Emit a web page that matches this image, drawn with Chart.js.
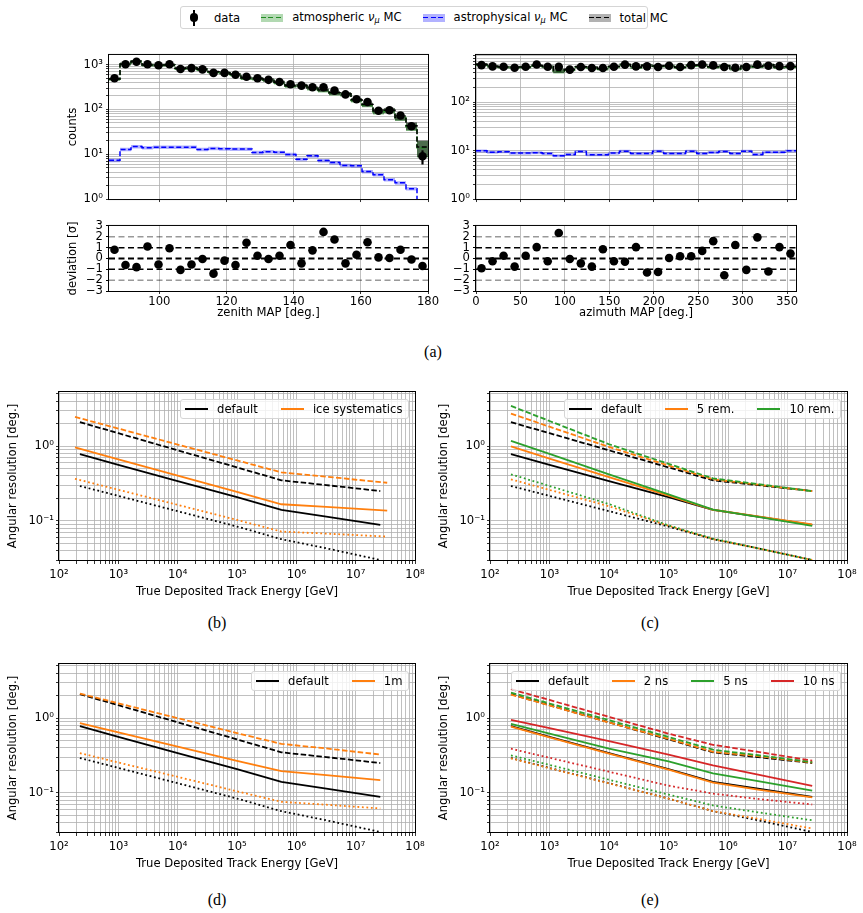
<!DOCTYPE html>
<html><head><meta charset="utf-8">
<script src="https://cdn.jsdelivr.net/npm/chart.js@4.4.1/dist/chart.umd.min.js"></script>
<style>
html,body{margin:0;padding:0}
body{width:863px;height:913px;overflow:hidden;background:#fff;position:relative;font-family:'DejaVu Sans',sans-serif;font-size:11.6px;color:#000}
canvas{position:absolute}
.cap{position:absolute;font-family:'Liberation Serif','DejaVu Serif',serif;font-size:16px;transform:translate(-50%,-50%)}
.lg{position:absolute;display:flex;align-items:center;background:rgba(255,255,255,0.8);border:1px solid #d5d5d5;border-radius:3px;height:20px;padding:0 5px 0 4px;box-sizing:border-box;white-space:nowrap}
.it{display:flex;align-items:center;margin-left:23px}
.it:first-child{margin-left:0}
.hl{width:23px;height:2px;margin-right:9px;flex:none}
#tl{position:absolute;left:180px;top:6px;height:23px;width:468px;box-sizing:border-box;border:1px solid #d5d5d5;border-radius:3px;display:flex;align-items:center;padding-left:2px;background:#fff;white-space:nowrap}
.h{position:relative;width:22px;height:16px;flex:none}
.pt{height:8px}
.dot{width:8.6px;height:8.6px;border-radius:50%;background:#000;position:absolute;left:6.7px;top:3.7px}
.eb{position:absolute;left:10.25px;top:0;width:1.5px;height:16px;background:#000}
.dl{position:absolute;left:0;top:3.25px;width:22px;height:1.5px}
.t{margin-left:9px;margin-right:21px}
sub{font-size:0.7em;vertical-align:-0.25em}
</style>
</head><body>
<div id="tl">
  <div class="h"><div class="eb"></div><div class="dot"></div></div><span class="t">data</span>
  <div class="h pt" style="background:rgba(0,128,0,0.3)"><div class="dl" style="background:repeating-linear-gradient(90deg,#228b22 0 5px,transparent 5px 7.5px)"></div></div><span class="t">atmospheric <i>ν<sub>μ</sub></i> MC</span>
  <div class="h pt" style="background:rgba(0,0,255,0.3)"><div class="dl" style="background:repeating-linear-gradient(90deg,#0000ff 0 5px,transparent 5px 7.5px)"></div></div><span class="t">astrophysical <i>ν<sub>μ</sub></i> MC</span>
  <div class="h pt" style="background:rgba(0,0,0,0.3)"><div class="dl" style="background:repeating-linear-gradient(90deg,#000 0 5px,transparent 5px 7.5px)"></div></div><span class="t" style="margin-right:0">total MC</span>
</div>
<canvas id="zc"></canvas><canvas id="zd"></canvas><canvas id="ac"></canvas><canvas id="ad"></canvas>
<canvas id="pb"></canvas><canvas id="pc"></canvas><canvas id="pd"></canvas><canvas id="pe"></canvas>
<div class="cap" style="left:433px;top:352px">(a)</div>
<div class="cap" style="left:217px;top:623px">(b)</div>
<div class="cap" style="left:650px;top:623px">(c)</div>
<div class="cap" style="left:217px;top:900px">(d)</div>
<div class="cap" style="left:650px;top:900px">(e)</div>
<script>
// ---------------- data: panel (a) ----------------
const zenithRange = [85, 180];
const azimuthRange = [0, 360];
const zenithTicks = [100, 120, 140, 160, 180];
const azimuthTicks = [0, 50, 100, 150, 200, 250, 300, 350];
const deviationTicks = [-3, -2, -1, 0, 1, 2, 3];
const deviationLevels = [-2, -1, 0, 1, 2];
const countsMax = { zenith: 1640, azimuth: 935 };

const zenithCounts = [496,1015,1158,1020,966,1015,795,835,783,653,653,592,537,496,457,408,363,339,313,313,262,216,169,146,93,96,73,42,9];
const zenithCountErr = [22,32,34,32,31,32,28,29,28,26,26,24,23,22,21,20,19,18,18,18,16,15,13,12,10,10,9,6.5,3];
const zenithAtmMC = [471,1021,1170,971,969,971,811,837,771,676,645,594,490,479,447,392,329,339,291,263,228,217,159,124,88,93,64,41,14];
const zenithAstroMC = [7.3,12.8,14.8,14.0,14.3,14.3,14.3,14.4,12.8,13.4,13.2,13.0,13.0,10.9,11.4,11.0,9.9,7.7,9.2,7.2,6.5,5.6,5.5,4.1,3.5,2.7,2.3,1.7,0.5];
const zenithTotalMC = [478,1034,1185,985,983,985,825,851,784,689,658,607,503,490,458,403,339,347,300,270,234,223,164,128,92,96,66,43,14.5];
const zenithMCRelErr = [.07,.07,.07,.07,.07,.07,.07,.07,.07,.07,.07,.07,.08,.08,.08,.08,.08,.08,.09,.09,.1,.1,.1,.1,.12,.12,.14,.2,.4];
const zenithAstroRelErr = [.09,.09,.09,.09,.09,.09,.09,.09,.09,.09,.09,.09,.09,.09,.09,.09,.09,.09,.09,.09,.09,.09,.09,.09,.09,.09,.09,.09,.09];
const zenithDeviation = [0.8,-0.6,-0.8,1.1,-0.55,0.95,-1.05,-0.55,-0.05,-1.4,-0.2,-0.6,1.45,0.25,-0.05,0.25,1.25,-0.45,0.75,2.45,1.75,-0.45,0.35,1.5,0.1,0.05,0.8,-0.1,-0.7];

const azimuthCounts = [577,544,535,511,535,596,535,535,466,527,503,503,535,590,544,544,527,559,527,577,596,570,527,511,527,590,559,550,550];
const azimuthCountErr = [24,23,23,23,23,24,23,23,22,23,22,22,23,24,23,23,23,24,23,24,24,24,23,23,23,24,24,23,23];
const azimuthAtmMC = [589,541,520,519,520,561,532,432,459,527,512,476,532,587,511,565,546,549,513,562,570,523,553,474,541,535,578,516,530];
const azimuthAstroMC = [9.85,9.25,9.4,8.85,8.85,9.0,8.7,7.8,8.3,9.55,8.2,8.2,8.85,9.7,8.7,8.7,9.7,8.7,8.7,9.7,8.7,9.1,9.55,8.7,9.7,8.3,9.25,9.25,9.85];
const azimuthTotalMC = [599,550,529,528,529,570,541,440,467,537,520,484,541,597,520,574,556,558,522,572,579,532,563,483,551,543,587,525,539];
const azimuthMCRelErr = [.06,.06,.06,.06,.06,.06,.06,.1,.06,.06,.06,.06,.06,.06,.06,.06,.06,.06,.06,.06,.06,.06,.06,.06,.06,.06,.06,.06,.06];
const azimuthAstroRelErr = [.07,.07,.07,.07,.07,.07,.07,.07,.07,.07,.07,.07,.07,.07,.07,.07,.07,.07,.07,.07,.07,.07,.07,.07,.07,.07,.07,.07,.07];
const azimuthDeviation = [-0.9,-0.25,0.25,-0.75,0.25,1.05,-0.25,2.35,-0.05,-0.45,-0.75,0.85,-0.25,-0.3,1.05,-1.3,-1.25,0.05,0.2,0.2,0.7,1.6,-1.55,1.25,-1.05,1.95,-1.2,1.05,0.45];

// ---------------- data: panels (b)-(e) ----------------
const energyRange = [100, 1e8];
const resolutionRange = [0.03, 5.3];
const energies = [225, 1000, 1e4, 1e5, 5.6e5, 3.2e6, 2.6e7];
const iceEnergies = [186, 1000, 1e4, 1e5, 5.6e5, 3.2e6, 3.4e7];

const defaultSolid  = [0.78, 0.563, 0.34, 0.208, 0.14, 0.114, 0.0885];
const defaultDashed = [2.09, 1.49, 0.88, 0.52, 0.349, 0.301, 0.251];
const defaultDotted = [0.293, 0.216, 0.135, 0.084, 0.057, 0.043, 0.030];

const iceSolid  = [0.96, 0.665, 0.403, 0.244, 0.167, 0.154, 0.137];
const iceDashed = [2.46, 1.72, 1.05, 0.645, 0.446, 0.39, 0.324];
const iceDotted = [0.366, 0.261, 0.164, 0.103, 0.072, 0.0676, 0.0617];

const rem5Solid  = [0.99, 0.68, 0.385, 0.218, 0.141, 0.115, 0.0895];
const rem5Dashed = [2.73, 1.82, 0.975, 0.55, 0.36, 0.305, 0.25];
const rem5Dotted = [0.36, 0.26, 0.157, 0.086, 0.057, 0.043, 0.030];
const rem10Solid  = [1.18, 0.787, 0.42, 0.227, 0.142, 0.113, 0.0858];
const rem10Dashed = [3.45, 2.17, 1.06, 0.58, 0.37, 0.31, 0.25];
const rem10Dotted = [0.42, 0.293, 0.168, 0.087, 0.058, 0.043, 0.030];

const m1Solid  = [0.86, 0.645, 0.417, 0.269, 0.195, 0.173, 0.148];
const m1Dashed = [2.13, 1.58, 1.0, 0.63, 0.453, 0.393, 0.326];
const m1Dotted = [0.341, 0.255, 0.164, 0.105, 0.076, 0.0695, 0.062];

const ns2Solid  = [0.77, 0.555, 0.335, 0.205, 0.137, 0.111, 0.087];
const ns2Dashed = [2.07, 1.48, 0.875, 0.53, 0.355, 0.31, 0.255];
const ns2Dotted = [0.29, 0.214, 0.134, 0.084, 0.057, 0.045, 0.0334];
const ns5Solid  = [0.84, 0.622, 0.392, 0.264, 0.183, 0.144, 0.107];
const ns5Dashed = [2.2, 1.57, 0.94, 0.56, 0.378, 0.319, 0.259];
const ns5Dotted = [0.318, 0.237, 0.15, 0.095, 0.068, 0.055, 0.043];
const ns10Solid  = [0.95, 0.733, 0.493, 0.324, 0.234, 0.176, 0.124];
const ns10Dashed = [2.44, 1.75, 1.04, 0.62, 0.44, 0.354, 0.27];
const ns10Dotted = [0.39, 0.295, 0.192, 0.125, 0.098, 0.083, 0.07];

// ---------------- helpers ----------------
Chart.defaults.font.family = "'DejaVu Sans', sans-serif";
Chart.defaults.font.size = 11.6;
Chart.defaults.color = '#000';
const GRID = '#b0b0b0';
const SUP = {'0':'⁰','1':'¹','2':'²','3':'³','4':'⁴','5':'⁵','6':'⁶','7':'⁷','8':'⁸','9':'⁹','-':'⁻'};
function decLabel(v){const e=Math.log10(v),r=Math.round(e);if(Math.abs(e-r)>1e-6)return '';return '10'+String(r).split('').map(c=>SUP[c]).join('');}
function logTicks(min,max){const out=[];for(let e=Math.floor(Math.log10(min));e<=Math.ceil(Math.log10(max));e++){for(let m=1;m<10;m++){const v=m*Math.pow(10,e);if(v>=min*(1-1e-9)&&v<=max*(1+1e-9))out.push(v);}}return out;}
function edgesOf(range,n){const w=(range[1]-range[0])/n;const e=[];for(let i=0;i<=n;i++)e.push(range[0]+i*w);return e;}
function centersOf(edges){const c=[];for(let i=0;i<edges.length-1;i++)c.push((edges[i]+edges[i+1])/2);return c;}
function stepPts(edges,vals){const p=vals.map((v,i)=>({x:edges[i],y:v}));p.push({x:edges[vals.length],y:vals[vals.length-1]});return p;}

const framePlugin={id:'frame',afterDraw(chart){const{ctx,chartArea:a}=chart;ctx.save();ctx.strokeStyle='#000';ctx.lineWidth=1;ctx.strokeRect(a.left-0.5,a.top-0.5,a.right-a.left+1,a.bottom-a.top+1);ctx.restore();}};
Chart.register(framePlugin);

function setup(id,L,T,R,B,yW,xH,padT,padR){const c=document.getElementById(id);const w=yW+(R-L)+padR,h=padT+(B-T)+xH;c.width=w;c.height=h;c.style.left=(L-yW)+'px';c.style.top=(T-padT)+'px';c.style.width=w+'px';c.style.height=h+'px';return c;}
function opts(padT,padR,x,y,yW,xH){x.afterFit=s=>{s.height=xH;};y.afterFit=s=>{s.width=yW;};return{responsive:false,animation:false,devicePixelRatio:1,events:[],layout:{padding:{top:padT,right:padR,left:0,bottom:0}},plugins:{legend:{display:false},tooltip:{enabled:false}},elements:{point:{radius:0},line:{tension:0}},scales:{x,y}};}
function linScale(min,max,ticks,o){return Object.assign({type:'linear',min,max,offset:false,afterBuildTicks:s=>{s.ticks=ticks.map(v=>({value:v}));},border:{display:false}},o);}
function logScale(min,max,o){const t=logTicks(min,max);return Object.assign({type:'logarithmic',min,max,offset:false,afterBuildTicks:s=>{s.ticks=t.map(v=>({value:v}));},border:{display:false}},o);}
const titleFont={size:11.6};

// ---------------- counts panels ----------------
function countsChart(id,rect,range,ticks,yMax,counts,errs,atm,astro,total,mcErr,astroErr,yW,showYTitle){
  const edges=edgesOf(range,counts.length), centers=centersOf(edges);
  const band=(vals,rel,sign)=>vals.map((v,i)=>v*(1+sign*rel[i]));
  const ds=[
    {type:'line',data:stepPts(edges,band(atm,mcErr,1)),stepped:'before',borderWidth:0,fill:'+1',backgroundColor:'rgba(0,128,0,0.45)',order:10},
    {type:'line',data:stepPts(edges,band(atm,mcErr,-1)),stepped:'before',borderWidth:0,fill:false,order:10},
    {type:'line',data:stepPts(edges,band(total,mcErr,1)),stepped:'before',borderWidth:0,fill:'+1',backgroundColor:'rgba(0,0,0,0.45)',order:9},
    {type:'line',data:stepPts(edges,band(total,mcErr,-1)),stepped:'before',borderWidth:0,fill:false,order:9},
    {type:'line',data:stepPts(edges,band(astro,astroErr,1)),stepped:'before',borderWidth:0,fill:'+1',backgroundColor:'rgba(0,0,255,0.3)',order:8},
    {type:'line',data:stepPts(edges,band(astro,astroErr,-1)),stepped:'before',borderWidth:0,fill:false,order:8},
    {type:'line',data:stepPts(edges,atm),stepped:'before',borderColor:'#228b22',borderWidth:1.5,borderDash:[5,2.5],fill:false,order:5},
    {type:'line',data:stepPts(edges,astro),stepped:'before',borderColor:'#0000ff',borderWidth:1.5,borderDash:[5,2.5],fill:false,order:5},
    {type:'line',data:stepPts(edges,total),stepped:'before',borderColor:'#000',borderWidth:1.5,borderDash:[5,2.5],fill:false,order:4},
    {type:'bar',data:centers.map((c,i)=>({x:c,y:[Math.max(counts[i]-errs[i],0.5),counts[i]+errs[i]]})),backgroundColor:'#000',barThickness:1.5,grouped:false,order:2},
    {type:'line',data:centers.map((c,i)=>({x:c,y:counts[i]})),showLine:false,pointRadius:4.3,pointBackgroundColor:'#000',pointBorderWidth:0,order:1}
  ];
  const x=linScale(range[0],range[1],ticks,{grid:{color:GRID,lineWidth:0.8,offset:false,tickLength:3,tickColor:'#000'},ticks:{display:false}});
  const y=logScale(1,yMax,{grid:{color:GRID,lineWidth:0.8,tickLength:3,tickColor:'#000'},ticks:{padding:3,autoSkip:false,callback:v=>decLabel(v)},title:{display:showYTitle,text:'counts',padding:0,font:titleFont}});
  const c=setup(id,rect[0],rect[1],rect[2],rect[3],yW,6,8,10);
  new Chart(c,{type:'line',data:{datasets:ds},options:opts(8,10,x,y,yW,6)});
}
function devChart(id,rect,range,ticks,dev,label,yW,showYTitle){
  const edges=edgesOf(range,dev.length), centers=centersOf(edges);
  const ds=deviationLevels.map(l=>({type:'line',data:[{x:range[0],y:l},{x:range[1],y:l}],borderColor:Math.abs(l)===2?'rgba(0,0,0,0.4)':'#000',borderWidth:l===0?2:1.5,borderDash:[6,3.5],fill:false,order:5}));
  ds.push({type:'line',data:centers.map((c,i)=>({x:c,y:dev[i]})),showLine:false,pointRadius:4.3,pointBackgroundColor:'#000',pointBorderWidth:0,order:1});
  const x=linScale(range[0],range[1],ticks,{grid:{color:GRID,lineWidth:0.8,offset:false,tickLength:3,tickColor:'#000'},ticks:{padding:1,autoSkip:false,maxRotation:0,minRotation:0,callback:v=>String(v)},title:{display:true,text:label,padding:{top:0,bottom:0},font:titleFont}});
  const y=linScale(-3,3,deviationTicks,{grid:{color:'rgba(0,0,0,0)',tickLength:3,tickColor:'#000'},ticks:{padding:3,autoSkip:false,callback:v=>v<0?'\u2212'+(-v):String(v)},title:{display:showYTitle,text:'deviation [σ]',padding:0,font:titleFont}});
  const c=setup(id,rect[0],rect[1],rect[2],rect[3],yW,29,8,14);
  new Chart(c,{type:'line',data:{datasets:ds},options:opts(8,14,x,y,yW,29)});
}
countsChart('zc',[109,53,428,203],zenithRange,zenithTicks,countsMax.zenith,zenithCounts,zenithCountErr,zenithAtmMC,zenithAstroMC,zenithTotalMC,zenithMCRelErr,zenithAstroRelErr,43,true);
devChart('zd',[109,224,428,291],zenithRange,zenithTicks,zenithDeviation,'zenith MAP [deg.]',43,true);
countsChart('ac',[476,53,796,203],azimuthRange,azimuthTicks,countsMax.azimuth,azimuthCounts,azimuthCountErr,azimuthAtmMC,azimuthAstroMC,azimuthTotalMC,azimuthMCRelErr,azimuthAstroRelErr,34,false);
devChart('ad',[476,224,796,291],azimuthRange,azimuthTicks,azimuthDeviation,'azimuth MAP [deg.]',34,false);

// ---------------- resolution panels ----------------
const STYLES=[['solid',[]],['dashed',[5.5,2.4]],['dotted',[1.8,2.7]]];
function resChart(id,rect,variants){
  const ds=[];
  variants.forEach(v=>{STYLES.forEach(([k,dash])=>{ds.push({type:'line',data:v.energy.map((e,j)=>({x:e,y:v[k][j]})),borderColor:v.color,borderWidth:1.8,borderDash:dash,pointRadius:0,fill:false,order:-ds.length});});});
  const x=logScale(energyRange[0],energyRange[1],{grid:{color:GRID,lineWidth:0.8,tickLength:4,tickColor:'#000'},ticks:{padding:4,autoSkip:false,maxRotation:0,minRotation:0,callback:v=>decLabel(v)},title:{display:true,text:'True Deposited Track Energy [GeV]',padding:{top:0,bottom:0},font:titleFont}});
  const y=logScale(resolutionRange[0],resolutionRange[1],{grid:{color:GRID,lineWidth:0.8,tickLength:3,tickColor:'#000'},ticks:{padding:2,autoSkip:false,callback:v=>decLabel(v)},title:{display:true,text:'Angular resolution [deg.]',padding:0,font:titleFont}});
  const c=setup(id,rect[0],rect[1],rect[2],rect[3],53,39,10,14);
  new Chart(c,{type:'line',data:{datasets:ds},options:opts(10,14,x,y,53,39)});
  const lg=document.createElement('div');lg.className='lg';
  lg.style.right=(863-(rect[2]-6.5))+'px';lg.style.top=(rect[1]+7.3)+'px';
  variants.forEach(v=>{const it=document.createElement('div');it.className='it';const hl=document.createElement('div');hl.className='hl';hl.style.background=v.color;const sp=document.createElement('span');sp.textContent=v.label;it.appendChild(hl);it.appendChild(sp);lg.appendChild(it);});
  document.body.appendChild(lg);
}
const DEF={label:'default',color:'#000000',energy:energies,solid:defaultSolid,dashed:defaultDashed,dotted:defaultDotted};
resChart('pb',[59,392,415,560],[DEF,{label:'ice systematics',color:'#ff7f0e',energy:iceEnergies,solid:iceSolid,dashed:iceDashed,dotted:iceDotted}]);
resChart('pc',[490,392,847,560],[DEF,{label:'5 rem.',color:'#ff7f0e',energy:energies,solid:rem5Solid,dashed:rem5Dashed,dotted:rem5Dotted},{label:'10 rem.',color:'#2ca02c',energy:energies,solid:rem10Solid,dashed:rem10Dashed,dotted:rem10Dotted}]);
resChart('pd',[59,664,415,832],[DEF,{label:'1m',color:'#ff7f0e',energy:energies,solid:m1Solid,dashed:m1Dashed,dotted:m1Dotted}]);
resChart('pe',[490,664,847,832],[DEF,{label:'2 ns',color:'#ff7f0e',energy:energies,solid:ns2Solid,dashed:ns2Dashed,dotted:ns2Dotted},{label:'5 ns',color:'#2ca02c',energy:energies,solid:ns5Solid,dashed:ns5Dashed,dotted:ns5Dotted},{label:'10 ns',color:'#d62728',energy:energies,solid:ns10Solid,dashed:ns10Dashed,dotted:ns10Dotted}]);
</script>
</body></html>
